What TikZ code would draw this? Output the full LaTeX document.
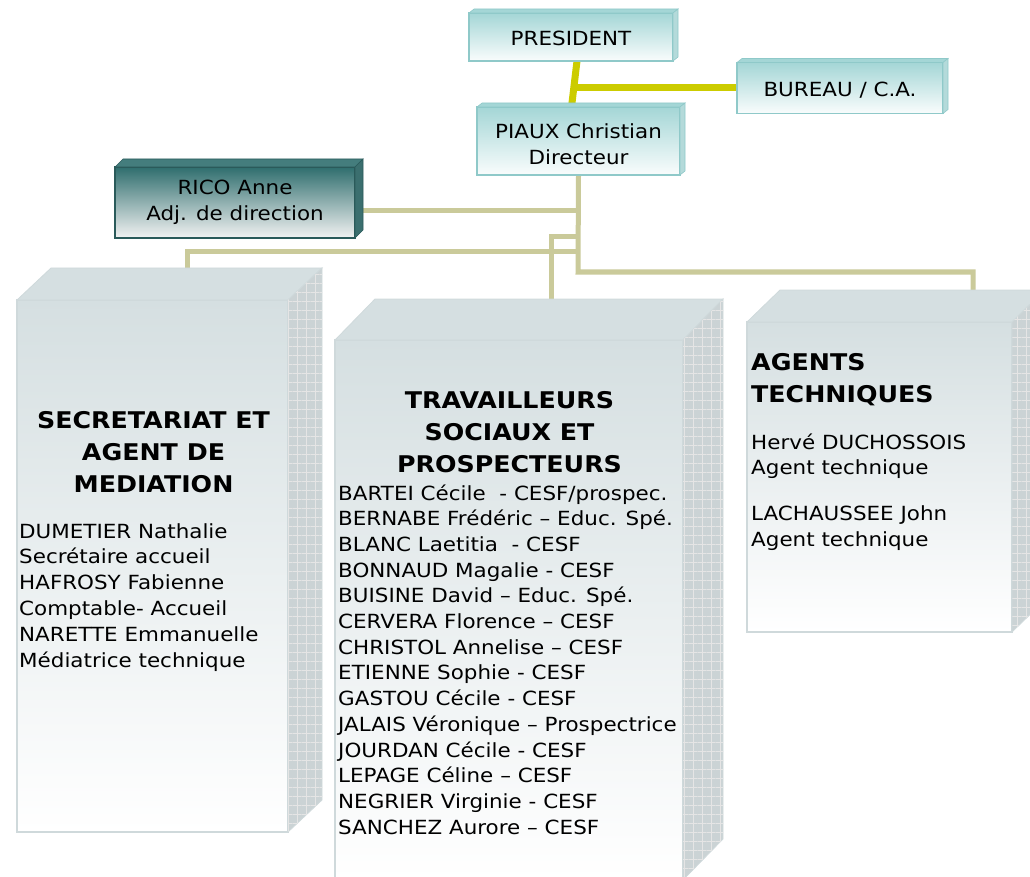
\documentclass[tikz,border=0pt]{standalone}
\usepackage{fontspec}
\setmainfont{DejaVu Sans}[FakeStretch=1.1]
\usetikzlibrary{patterns.meta}
\definecolor{oliveln}{HTML}{CACA9A}
\definecolor{yellowln}{HTML}{CCCC00}
\definecolor{bigtop}{HTML}{D5DFE1}
\definecolor{bigside}{HTML}{CBD3D5}
\definecolor{bigedge}{HTML}{CFD9DB}
\definecolor{smtop}{HTML}{A4D6D6}
\definecolor{smedge}{HTML}{8FC9C9}
\definecolor{smside}{HTML}{B4DADA}
\definecolor{rctop}{HTML}{2F6E6E}
\definecolor{rcedge}{HTML}{2A5A5A}
\definecolor{rcside}{HTML}{3B6F6F}
\newcommand\bodyf{\fontsize{19.5}{25.7}\selectfont}
\newcommand\headf{\fontsize{23}{32}\selectfont\bfseries}
\newcommand\cubefaces[5]{%
  \filldraw[#4] (#1.north west) -- ++(#2,-#3) -- ([shift={(#2,-#3)}]#1.north east) -- (#1.north east) -- cycle;
  \filldraw[#5] (#1.north east) -- ++(#2,-#3) -- ([shift={(#2,-#3)}]#1.south east) -- (#1.south east) -- cycle;}
\tikzset{
  oline/.style={draw=oliveln, line width=5pt},
  yline/.style={draw=yellowln, line width=7pt},
  bigbox/.style={draw=bigedge, line width=1.2pt, top color=bigtop, bottom color=white, inner sep=0pt, outer sep=0pt},
  bigtopface/.style={fill=bigtop, draw=bigedge, line width=0.8pt},
  bigsideface/.style={fill=bigside, draw=bigedge, line width=0.8pt, postaction={pattern={Hatch[angle=0,distance=9pt,line width=0.5pt]}, pattern color=black!10}},
  smbox/.style={draw=smedge, line width=1.2pt, top color=smtop, bottom color=white!94!smtop, inner sep=0pt, outer sep=0pt},
  smtopface/.style={fill=smtop, draw=smedge, line width=0.6pt},
  smsideface/.style={fill=smside, draw=smedge, line width=0.6pt},
  rcbox/.style={draw=rcedge, line width=1.2pt, top color=rctop, bottom color=white!95!black, inner sep=0pt, outer sep=0pt},
  rctopface/.style={fill=rctop!90!white, draw=rcedge, line width=0.6pt},
  rcsideface/.style={fill=rcside, draw=rcedge, line width=0.6pt},
  boxtxt/.style={font=\bodyf, align=center, inner sep=0pt},
  bodytxt/.style={font=\bodyf, inner sep=0pt, anchor=base west},
  headtxt/.style={font=\headf, inner sep=0pt, anchor=base},
  headtxtl/.style={font=\headf, inner sep=0pt, anchor=base west}
}
\begin{document}
\begin{tikzpicture}[x=1pt,y=-1pt]
\useasboundingbox (0,0) rectangle (1030,877);
\clip (0,0) rectangle (1030,877);

% ---- connector coordinates
\coordinate (jY) at (575,88);
\coordinate (jA) at (578,210.5);
\coordinate (jC) at (578,237);
\coordinate (jB) at (578,251.5);
\coordinate (jR) at (578,272);
\coordinate (secT) at (187,270);
\coordinate (traT) at (551,300);
\coordinate (agtT) at (973,292);

% ---- box front faces
\node[smbox, minimum width=204pt, minimum height=48pt] (pres) at (571,37) {};
\node[smbox, minimum width=206pt, minimum height=51pt] (bureau) at (840,88) {};
\node[smbox, minimum width=203pt, minimum height=68pt] (piaux) at (578.5,141) {};
\node[rcbox, minimum width=240pt, minimum height=71pt] (rico) at (235,202.5) {};
\node[bigbox, minimum width=271pt, minimum height=532pt] (sec) at (152.5,566) {};
\node[bigbox, minimum width=348pt, minimum height=540pt] (tra) at (509,610) {};
\node[bigbox, minimum width=265pt, minimum height=310pt] (agt) at (879.5,477) {};

% ---- connectors
\draw[yline] ([xshift=6pt]pres.south) -- ([xshift=-7pt]piaux.north);
\draw[yline] (jY) -- (bureau.west);
\draw[oline] (piaux.south) -- (jR) -| (agtT);
\draw[oline] (jA -| rico.east) -- (jA);
\draw[oline] (jC) -| (traT);
\draw[oline] (jB) -| (secT);

% ---- redraw small front faces above connector ends, plus 3D faces
\node[smbox, minimum width=204pt, minimum height=48pt] at (pres) {};
\cubefaces{pres}{5}{4}{smtopface}{smsideface}
\node[smbox, minimum width=206pt, minimum height=51pt] at (bureau) {};
\cubefaces{bureau}{5}{4}{smtopface}{smsideface}
\node[smbox, minimum width=203pt, minimum height=68pt] at (piaux) {};
\cubefaces{piaux}{5}{4}{smtopface}{smsideface}
\node[rcbox, minimum width=240pt, minimum height=71pt] at (rico) {};
\cubefaces{rico}{8}{8}{rctopface}{rcsideface}

\cubefaces{sec}{34}{32}{bigtopface}{bigsideface}
\cubefaces{tra}{40}{41}{bigtopface}{bigsideface}
\cubefaces{agt}{33}{32}{bigtopface}{bigsideface}

% ---- small box texts
\node[boxtxt] (presT) at ([yshift=-1pt]pres.center) {PRESIDENT};
\node[boxtxt] (bureauT) at ([yshift=-2pt]bureau.center) {BUREAU / C.A.};
\node[boxtxt] (piauxT) at ([yshift=-3pt]piaux.center) {PIAUX Christian\\Directeur};
\node[boxtxt] (ricoT) at (rico.center) {RICO Anne\\Adj. de direction};

% ---- SECRETARIAT
\node[headtxt] (sh1) at (153.5,428) {SECRETARIAT ET};
\node[headtxt] (sh2) at (153.5,460) {AGENT DE};
\node[headtxt] (sh3) at (153.5,492) {MEDIATION};
\foreach \t [count=\i] in {{DUMETIER Nathalie},{Secrétaire accueil},{HAFROSY Fabienne},{Comptable- Accueil},{NARETTE Emmanuelle},{Médiatrice technique}}
  \node[bodytxt] (s\i) at (19,{538+(\i-1)*25.8}) {\t};

% ---- TRAVAILLEURS
\node[headtxt] (th1) at (509.5,408) {TRAVAILLEURS};
\node[headtxt] (th2) at (509.5,440) {SOCIAUX ET};
\node[headtxt] (th3) at (509.5,472) {PROSPECTEURS};
\foreach \t [count=\i] in {{BARTEI Cécile~ - CESF/prospec.},{BERNABE Frédéric – Educ. Spé.},{BLANC Laetitia~ - CESF},{BONNAUD Magalie - CESF},{BUISINE David – Educ. Spé.},{CERVERA Florence – CESF},{CHRISTOL Annelise – CESF},{ETIENNE Sophie - CESF},{GASTOU Cécile - CESF},{JALAIS Véronique – Prospectrice},{JOURDAN Cécile - CESF},{LEPAGE Céline – CESF},{NEGRIER Virginie - CESF},{SANCHEZ Aurore – CESF}}
  \node[bodytxt] (t\i) at (338,{500+(\i-1)*25.7}) {\t};

% ---- AGENTS TECHNIQUES
\node[headtxtl] (ah1) at (751,370) {AGENTS};
\node[headtxtl] (ah2) at (751,402) {TECHNIQUES};
\node[bodytxt] (a1) at (751,449) {Hervé DUCHOSSOIS};
\node[bodytxt] (a2) at (751,474.5) {Agent technique};
\node[bodytxt] (a3) at (751,520) {LACHAUSSEE John};
\node[bodytxt] (a4) at (751,546) {Agent technique};
\end{tikzpicture}
\end{document}
